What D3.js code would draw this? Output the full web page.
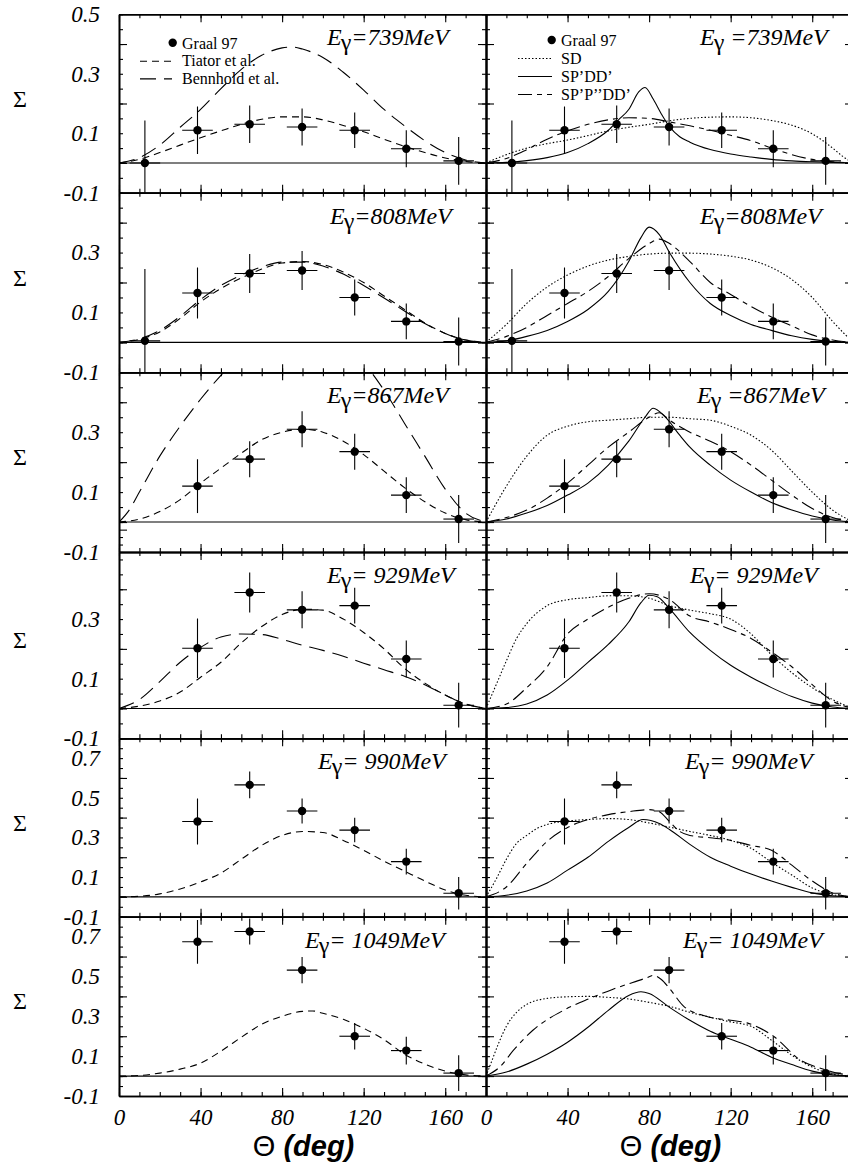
<!DOCTYPE html>
<html>
<head>
<meta charset="utf-8">
<script src="https://cdn.jsdelivr.net/npm/d3@7"></script>
<style>
body { margin: 0; background: #fff; }
svg { display: block; }
</style>
</head>
<body>
<svg id="chart"></svg>
<script>
var w = 848;
var h = 1166;

// photon energies (one row of panels each)
var energies = ["739", "808", "867", "929", "990", "1049"];
var labelLeft = ["=739MeV", "=808MeV", "=867MeV", "= 929MeV", "= 990MeV", "= 1049MeV"];
var labelRight = [" =739MeV", "=808MeV", " =867MeV", "= 929MeV", "= 990MeV", "= 1049MeV"];

// Graal 97 data: angle bins, Sigma and errors per energy
var theta = [12.7, 38.5, 64.1, 89.8, 115.6, 140.9, 166.6];
var thetaErr = 7.5;
var sigma739 = [0.0, 0.110, 0.130, 0.121, 0.110, 0.048, 0.007];
var err739 = [0.143, 0.080, 0.063, 0.062, 0.060, 0.062, 0.080];
var sigma808 = [0.005, 0.165, 0.230, 0.240, 0.150, 0.070, 0.003];
var err808 = [0.240, 0.085, 0.065, 0.065, 0.060, 0.060, 0.080];
var sigma867 = [null, 0.120, 0.210, 0.310, 0.235, 0.090, 0.010];
var err867 = [null, 0.090, 0.060, 0.060, 0.060, 0.060, 0.080];
var sigma929 = [null, 0.202, 0.389, 0.331, 0.345, 0.166, 0.011];
var err929 = [null, 0.100, 0.067, 0.062, 0.060, 0.062, 0.075];
var sigma990 = [null, 0.380, 0.565, 0.433, 0.337, 0.178, 0.018];
var err990 = [null, 0.116, 0.068, 0.063, 0.062, 0.065, 0.082];
var sigma1049 = [null, 0.674, 0.726, 0.532, 0.200, 0.128, 0.015];
var err1049 = [null, 0.110, 0.065, 0.066, 0.066, 0.070, 0.090];

// model curves [theta, Sigma]
var tiator739 = [[0,0],[10,0.012],[20,0.035],[30,0.06],[40,0.085],[50,0.108],[60,0.13],[70,0.147],[80,0.155],[90,0.155],[100,0.145],[110,0.126],[120,0.105],[130,0.08],[140,0.056],[150,0.035],[160,0.017],[170,0.005],[180,0]];
var tiator808 = [[0,0],[10,0.01],[20,0.035],[30,0.08],[40,0.135],[50,0.18],[60,0.215],[70,0.245],[80,0.265],[90,0.27],[100,0.26],[110,0.235],[120,0.2],[130,0.155],[140,0.11],[150,0.065],[160,0.03],[170,0.008],[180,0]];
var tiator867 = [[0,0],[10,0.01],[20,0.035],[30,0.075],[40,0.13],[50,0.18],[60,0.23],[70,0.275],[80,0.3],[90,0.31],[100,0.3],[110,0.27],[120,0.225],[130,0.17],[140,0.115],[150,0.068],[160,0.03],[170,0.008],[180,0]];
var tiator929 = [[0,0],[10,0.008],[20,0.025],[30,0.055],[40,0.105],[50,0.155],[60,0.22],[70,0.275],[80,0.315],[90,0.333],[100,0.33],[110,0.3],[120,0.255],[130,0.2],[140,0.135],[150,0.085],[160,0.045],[170,0.015],[180,0]];
var tiator990 = [[0,0],[10,0.003],[20,0.015],[30,0.04],[40,0.075],[50,0.12],[60,0.19],[70,0.26],[80,0.31],[90,0.33],[100,0.325],[110,0.285],[120,0.235],[130,0.18],[140,0.13],[150,0.08],[160,0.035],[170,0.008],[180,0]];
var tiator1049 = [[0,0],[10,0.003],[20,0.015],[30,0.035],[40,0.065],[50,0.125],[60,0.195],[70,0.26],[80,0.3],[90,0.325],[95,0.327],[100,0.315],[110,0.285],[120,0.24],[130,0.183],[140,0.11],[150,0.06],[160,0.025],[170,0.006],[180,0]];

var bennhold739 = [[0,0],[10,0.018],[20,0.06],[30,0.12],[40,0.18],[50,0.25],[60,0.315],[70,0.362],[80,0.387],[85,0.39],[90,0.383],[100,0.355],[110,0.305],[120,0.245],[130,0.18],[140,0.125],[150,0.075],[160,0.035],[170,0.01],[180,0]];
var bennhold808 = [[0,0],[10,0.012],[20,0.04],[30,0.087],[40,0.143],[50,0.19],[60,0.225],[70,0.252],[80,0.268],[90,0.268],[100,0.255],[110,0.228],[120,0.19],[130,0.148],[140,0.105],[150,0.063],[160,0.03],[170,0.008],[180,0]];
var bennhold867 = [[0,0],[5,0.04],[10,0.1],[20,0.22],[30,0.32],[40,0.41],[50,0.49],[60,0.56],[70,0.6],[80,0.63],[90,0.64],[100,0.62],[110,0.58],[120,0.53],[130,0.44],[140,0.33],[150,0.22],[160,0.11],[170,0.03],[180,0]];
var bennhold929 = [[0,0],[10,0.03],[20,0.09],[30,0.155],[40,0.205],[50,0.24],[60,0.25],[70,0.248],[80,0.232],[90,0.212],[100,0.195],[110,0.175],[120,0.152],[130,0.13],[140,0.108],[150,0.08],[160,0.045],[170,0.015],[180,0]];

var sd739 = [[0,0],[10,0.028],[20,0.05],[30,0.065],[40,0.077],[50,0.092],[60,0.108],[70,0.12],[80,0.13],[90,0.142],[100,0.15],[110,0.154],[120,0.155],[130,0.152],[140,0.143],[150,0.127],[160,0.098],[165,0.076],[170,0.05],[175,0.022],[180,0]];
var sd808 = [[0,0],[10,0.06],[20,0.13],[30,0.185],[40,0.225],[50,0.255],[60,0.275],[70,0.287],[80,0.295],[90,0.298],[100,0.298],[110,0.295],[120,0.288],[130,0.275],[140,0.25],[150,0.21],[160,0.15],[170,0.07],[180,0]];
var sd867 = [[0,0],[10,0.12],[20,0.22],[30,0.29],[40,0.32],[50,0.335],[60,0.34],[70,0.345],[80,0.35],[90,0.35],[100,0.345],[110,0.34],[120,0.32],[130,0.29],[140,0.24],[150,0.17],[160,0.1],[170,0.04],[180,0]];
var sd929 = [[0,0],[5,0.08],[10,0.16],[15,0.235],[20,0.285],[30,0.345],[40,0.365],[50,0.372],[60,0.378],[70,0.378],[80,0.37],[90,0.345],[100,0.33],[110,0.318],[120,0.3],[130,0.25],[140,0.18],[150,0.12],[160,0.07],[170,0.03],[180,0]];
var sd990 = [[0,0],[5,0.09],[10,0.19],[15,0.27],[20,0.31],[25,0.345],[30,0.365],[40,0.383],[50,0.39],[60,0.395],[70,0.39],[80,0.373],[90,0.352],[100,0.33],[110,0.31],[120,0.285],[130,0.245],[140,0.175],[150,0.11],[160,0.045],[170,0.012],[180,0]];
var sd1049 = [[0,0],[3,0.08],[6,0.16],[10,0.25],[15,0.32],[20,0.36],[30,0.39],[40,0.398],[50,0.4],[60,0.395],[70,0.387],[80,0.37],[90,0.35],[100,0.32],[110,0.295],[120,0.272],[130,0.25],[140,0.18],[150,0.105],[160,0.045],[170,0.01],[180,0]];

var spdd739 = [[0,0],[10,0.002],[20,0.008],[30,0.018],[40,0.035],[50,0.065],[60,0.11],[65,0.145],[70,0.18],[75,0.24],[78,0.254],[82,0.215],[86,0.165],[90,0.122],[95,0.088],[100,0.07],[110,0.045],[120,0.03],[130,0.02],[140,0.012],[150,0.007],[160,0.004],[170,0.002],[180,0]];
var spdd808 = [[0,0],[10,0.005],[20,0.02],[30,0.04],[40,0.07],[50,0.11],[60,0.17],[70,0.27],[76,0.35],[80,0.385],[85,0.36],[90,0.3],[100,0.2],[110,0.13],[120,0.09],[130,0.06],[140,0.04],[150,0.022],[160,0.01],[170,0.003],[180,0]];
var spdd867 = [[0,0],[10,0.01],[20,0.03],[30,0.055],[40,0.09],[50,0.13],[60,0.19],[70,0.27],[78,0.35],[82,0.38],[88,0.35],[95,0.29],[100,0.25],[110,0.19],[120,0.14],[130,0.1],[140,0.065],[150,0.04],[160,0.02],[170,0.007],[180,0]];
var spdd929 = [[0,0],[10,0.003],[20,0.015],[30,0.045],[40,0.095],[50,0.155],[60,0.215],[70,0.29],[76,0.355],[80,0.38],[84,0.375],[90,0.335],[100,0.255],[110,0.195],[120,0.145],[130,0.105],[140,0.07],[150,0.04],[160,0.018],[170,0.005],[180,0]];
var spdd990 = [[0,0],[10,0.008],[20,0.03],[30,0.07],[40,0.135],[50,0.2],[60,0.28],[70,0.35],[77,0.39],[85,0.37],[90,0.34],[100,0.265],[110,0.2],[120,0.155],[130,0.115],[140,0.08],[150,0.048],[160,0.02],[170,0.006],[180,0]];
var spdd1049 = [[0,0],[10,0.02],[20,0.06],[30,0.11],[40,0.17],[50,0.245],[60,0.33],[70,0.405],[76,0.423],[80,0.415],[90,0.345],[100,0.28],[110,0.225],[120,0.185],[130,0.145],[140,0.095],[150,0.058],[160,0.025],[170,0.006],[180,0]];

var sppdd739 = [[0,0],[10,0.015],[20,0.045],[30,0.08],[40,0.108],[50,0.13],[60,0.145],[70,0.152],[80,0.15],[90,0.138],[100,0.125],[110,0.11],[120,0.093],[130,0.075],[140,0.05],[150,0.028],[160,0.012],[170,0.004],[180,0]];
var sppdd808 = [[0,0],[10,0.02],[20,0.05],[30,0.09],[40,0.13],[50,0.17],[60,0.22],[70,0.28],[80,0.33],[85,0.345],[90,0.33],[100,0.27],[110,0.2],[120,0.16],[130,0.12],[140,0.085],[150,0.055],[160,0.025],[170,0.008],[180,0]];
var sppdd867 = [[0,0],[10,0.015],[20,0.04],[30,0.08],[40,0.13],[50,0.19],[60,0.25],[70,0.3],[80,0.35],[85,0.365],[90,0.34],[100,0.3],[110,0.27],[120,0.235],[130,0.19],[140,0.14],[150,0.09],[160,0.045],[170,0.015],[180,0]];
var sppdd929 = [[0,0],[10,0.015],[20,0.07],[30,0.14],[40,0.25],[50,0.3],[60,0.34],[70,0.37],[80,0.385],[90,0.365],[100,0.31],[110,0.29],[120,0.265],[130,0.235],[140,0.19],[150,0.14],[160,0.08],[170,0.025],[180,0]];
var sppdd990 = [[0,0],[10,0.05],[20,0.17],[30,0.28],[40,0.35],[50,0.39],[60,0.415],[70,0.43],[80,0.44],[85,0.43],[90,0.38],[95,0.33],[100,0.31],[110,0.298],[120,0.285],[130,0.26],[140,0.235],[150,0.16],[160,0.08],[170,0.02],[180,0]];
var sppdd1049 = [[0,0],[7,0.048],[13.5,0.13],[23,0.23],[38,0.33],[51,0.39],[62,0.435],[79,0.494],[82,0.505],[86,0.485],[90,0.44],[97,0.35],[108,0.3],[120,0.28],[128,0.267],[141,0.2],[154,0.082],[167,0.03],[180,0]];

// y axis tops and tick label values per row
var yTop = [0.5, 0.5, 0.5, 0.525, 0.8, 0.8];
var yLabels = [[0.5, 0.3, 0.1, -0.1], [0.3, 0.1, -0.1], [0.3, 0.1, -0.1], [0.3, 0.1, -0.1],
               [0.7, 0.5, 0.3, 0.1, -0.1], [0.7, 0.5, 0.3, 0.1, -0.1]];
var xLabels = [0, 40, 80, 120, 160];

// layout
var rowTop = [14.3, 192.7, 372.3, 552, 738.3, 916.7];
var rowBottom = [192.7, 372.3, 552, 738.3, 916.7, 1096];
var colLeft = [119, 486];
var colWidth = 367;

var graal = [sigma739, sigma808, sigma867, sigma929, sigma990, sigma1049];
var graalErr = [err739, err808, err867, err929, err990, err1049];
var leftModels = [
    { name: "Tiator et al.", dash: "7,5", rows: [tiator739, tiator808, tiator867, tiator929, tiator990, tiator1049] },
    { name: "Bennhold et al.", dash: "16,8", rows: [bennhold739, bennhold808, bennhold867, bennhold929, null, null] }
];
var rightModels = [
    { name: "SD", dash: "1.5,2", rows: [sd739, sd808, sd867, sd929, sd990, sd1049] },
    { name: "SP\u2019DD\u2019", dash: null, rows: [spdd739, spdd808, spdd867, spdd929, spdd990, spdd1049] },
    { name: "SP\u2019P\u2019\u2019DD\u2019", dash: "14,5,5,5", rows: [sppdd739, sppdd808, sppdd867, sppdd929, sppdd990, sppdd1049] }
];
var labelStartLeft = [327, 330, 327, 327, 318, 305];
var labelStartRight = [700, 700, 697, 690, 685, 683];

var svg = d3.select("#chart").attr("width", w).attr("height", h);
var defs = svg.append("defs");
var serif = "'Liberation Serif', 'Times New Roman', serif";

function range(a, b, step) {
    return d3.range(Math.round(a / step), Math.round(b / step) + 1).map(k => +(k * step).toFixed(3));
}

//style an axis group: thick frame, thin ticks, italic labels
function styleAxis(g) {
    g.select(".domain").attr("stroke-width", 1.6);
    g.selectAll(".tick line").attr("stroke-width", 1.1);
    g.selectAll("text").attr("font-family", serif).attr("font-style", "italic")
        .attr("font-size", 23).attr("fill", "#000");
}

function drawPanel(r, c) {
    var x = d3.scaleLinear().domain([0, 180]).range([colLeft[c], colLeft[c] + colWidth]);
    var y = d3.scaleLinear().domain([-0.1, yTop[r]]).range([rowBottom[r], rowTop[r]]);
    var clipId = "clip" + r + "_" + c;
    defs.append("clipPath").attr("id", clipId).append("rect")
        .attr("x", x(0)).attr("y", y(yTop[r]))
        .attr("width", x(180) - x(0)).attr("height", y(-0.1) - y(yTop[r]));

    var plot = svg.append("g").attr("clip-path", `url(#${clipId})`);
    plot.append("line")
        .attr("x1", x(0)).attr("x2", x(180)).attr("y1", y(0)).attr("y2", y(0))
        .attr("stroke", "#000").attr("stroke-width", 1.1);

    var line = d3.line().x(d => x(d[0])).y(d => y(d[1])).curve(d3.curveMonotoneX);
    var models = c === 0 ? leftModels : rightModels;
    models.forEach(m => {
        if (!m.rows[r]) return;
        plot.append("path").attr("d", line(m.rows[r]))
            .attr("fill", "none").attr("stroke", "#000").attr("stroke-width", 1.1)
            .attr("stroke-dasharray", m.dash);
    });

    //data points with error bars
    var pts = theta.map((t, i) => ({ t: t, s: graal[r][i], e: graalErr[r][i] })).filter(d => d.s !== null);
    var pg = plot.selectAll("g.pt").data(pts).enter().append("g").attr("class", "pt");
    pg.append("line")
        .attr("x1", d => x(d.t - thetaErr)).attr("x2", d => x(d.t + thetaErr))
        .attr("y1", d => y(d.s)).attr("y2", d => y(d.s))
        .attr("stroke", "#000").attr("stroke-width", 1.1);
    pg.append("line")
        .attr("x1", d => x(d.t)).attr("x2", d => x(d.t))
        .attr("y1", d => y(d.s - d.e)).attr("y2", d => y(d.s + d.e))
        .attr("stroke", "#000").attr("stroke-width", 1.1);
    pg.append("circle").attr("cx", d => x(d.t)).attr("cy", d => y(d.s)).attr("r", 4.2).attr("fill", "#000");

    //frame with inward ticks
    var yMinor = range(-0.1, yTop[r], 0.05);
    var yMajor = range(-0.1, yTop[r], 0.2);
    var xMinor = range(0, 180, 10);
    var xMajor = range(0, 160, 40);
    var axes = svg.append("g");
    var pairs = [
        [d3.axisLeft(y), `translate(${x(0)},0)`, yMinor, yMajor, c === 0 ? yLabels[r] : null, 19],
        [d3.axisRight(y), `translate(${x(180)},0)`, yMinor, yMajor, null, 0],
        [d3.axisTop(x), `translate(0,${y(yTop[r])})`, xMinor, xMajor, null, 0],
        [d3.axisBottom(x), `translate(0,${y(-0.1)})`, xMinor, xMajor, r === 5 ? xLabels : null, 13]
    ];
    pairs.forEach(p => {
        var minor = axes.append("g").attr("transform", p[1])
            .call(p[0].tickValues(p[2]).tickSize(-4).tickSizeOuter(0).tickFormat(""));
        styleAxis(minor);
        var major = axes.append("g").attr("transform", p[1])
            .call(p[0].tickValues(p[3]).tickSize(-8).tickSizeOuter(0).tickFormat(""));
        styleAxis(major);
        if (p[4]) {
            var lab = axes.append("g").attr("transform", p[1])
                .call(p[0].tickValues(p[4]).tickSize(0).tickPadding(p[5])
                    .tickFormat(v => v.toFixed(v % 1 === 0 ? 0 : 1)));
            lab.select(".domain").remove();
            lab.selectAll(".tick line").remove();
            styleAxis(lab);
        }
    });

    //energy label
    var t = svg.append("text")
        .attr("x", c === 0 ? labelStartLeft[r] : labelStartRight[r])
        .attr("y", rowTop[r] + 31)
        .attr("font-family", serif).attr("font-style", "italic").attr("font-size", 24);
    t.append("tspan").text("E");
    t.append("tspan").attr("dy", 5).attr("dx", -1).attr("font-style", "normal").text("\u03b3");
    t.append("tspan").attr("dy", -5).text(c === 0 ? labelLeft[r] : labelRight[r]);

    if (c === 0) {
        svg.append("text").attr("x", 20).attr("y", (rowTop[r] + rowBottom[r]) / 2 + 3)
            .attr("text-anchor", "middle").attr("font-family", serif).attr("font-size", 24)
            .text("\u03a3");
    }
    if (r === 5) {
        var tt = svg.append("text").attr("x", x(90) + 1).attr("y", 1156)
            .attr("text-anchor", "middle").attr("font-family", "'Liberation Sans', Arial, sans-serif")
            .attr("font-size", 29);
        tt.append("tspan").text("\u0398 ");
        tt.append("tspan").attr("font-weight", "bold").attr("font-style", "italic").text("(deg)");
    }
}

//legends in the top row
function drawLegend(entries, dotX, dotY, lineX0, lineX1, textX, baseline, step) {
    var lg = svg.append("g").attr("font-family", serif).attr("font-size", 16);
    lg.append("circle").attr("cx", dotX).attr("cy", dotY).attr("r", 4.2).attr("fill", "#000");
    lg.append("text").attr("x", textX).attr("y", baseline).text("Graal 97");
    entries.forEach((m, i) => {
        var yy = baseline + step * (i + 1);
        lg.append("line").attr("x1", lineX0).attr("x2", lineX1).attr("y1", yy - 5).attr("y2", yy - 5)
            .attr("stroke", "#000").attr("stroke-width", 1.1).attr("stroke-dasharray", m.dash);
        lg.append("text").attr("x", textX).attr("y", yy).text(m.name);
    });
}

energies.forEach((e, r) => {
    drawPanel(r, 0);
    drawPanel(r, 1);
});
drawLegend(leftModels, 172.7, 42.7, 140, 172, 182, 48.5, 17.7);
drawLegend(rightModels, 551.7, 40, 518, 552, 561, 45.5, 18);
</script>
</body>
</html>
